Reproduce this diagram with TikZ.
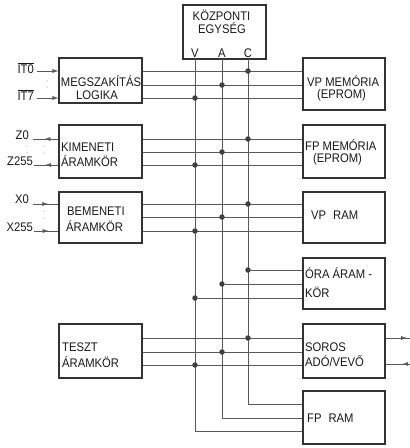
\documentclass[tikz,border=0pt]{standalone}
\usepackage{fontspec}
\setmainfont{Liberation Sans}[FakeStretch=0.9]
\usetikzlibrary{arrows.meta,decorations.markings}
\begin{document}
\begin{tikzpicture}[x=1pt,y=-1pt,
  blk/.style={draw=black!80,line width=1.1pt,minimum width=83pt,inner sep=0pt},
  rblk/.style={blk,minimum width=82pt},
  wire/.style={draw=black!65,line width=0.6pt},
  jdot/.style={circle,fill=black!75,inner sep=0pt,minimum size=5.5pt},
  fdot/.style={circle,fill=black!35,inner sep=0pt,minimum size=1.3pt},
  txt/.style={font=\fontsize{12.5}{14}\selectfont,text=black!90,inner sep=0pt,anchor=base west},
  lbl/.style={txt,anchor=base east},
  midarrow/.style={postaction={decorate},decoration={markings,mark=at position #1 with {\arrow{Latex[length=6pt,width=4pt]}}}},
]
\useasboundingbox (0,0) rectangle (410,448);

% boxes
\node[blk,minimum height=54pt] (cpu) at (224.5,32) {};
\node[blk,minimum height=45pt] (megsz) at (100.5,80.5) {};
\node[blk,minimum height=53pt] (kim) at (100.5,151.5) {};
\node[blk,minimum height=51pt] (bem) at (100.5,217.5) {};
\node[blk,minimum height=54pt] (teszt) at (100.5,351) {};
\node[rblk,minimum height=52pt] (vpmem) at (344,84) {};
\node[rblk,minimum height=53pt] (fpmem) at (344,151.5) {};
\node[rblk,minimum height=51pt] (vpram) at (344,217.5) {};
\node[rblk,minimum height=51pt] (ora) at (344,283.5) {};
\node[rblk,minimum height=54pt] (soros) at (344,351) {};
\node[rblk,minimum height=53pt] (fpram) at (344,417.5) {};

% texts
\node[txt,anchor=base] (t1) at (221.5,20) {KÖZPONTI};
\node[txt,anchor=base] (t2) at (222,33) {EGYSÉG};
\node[txt,anchor=base] (tv) at (195,57) {V};
\node[txt,anchor=base] (ta) at (222,57) {A};
\node[txt,anchor=base] (tc) at (248,57) {C};
\node[txt,anchor=base] (t3) at (101,86) {MEGSZAKÍTÁS};
\node[txt,anchor=base] (t4) at (97,99) {LOGIKA};
\node[txt] (t5) at (61,151) {KIMENETI};
\node[txt] (t6) at (61,166) {ÁRAMKÖR};
\node[txt] (t7) at (67,215) {BEMENETI};
\node[txt] (t8) at (66,231) {ÁRAMKÖR};
\node[txt] (t9) at (62,351) {TESZT};
\node[txt] (t10) at (62,367) {ÁRAMKÖR};
\node[txt] (t11) at (307,86) {VP MEMÓRIA};
\node[txt] (t12) at (317,98) {(EPROM)};
\node[txt] (t13) at (305,150) {FP MEMÓRIA};
\node[txt] (t14) at (313,162) {(EPROM)};
\node[txt] (t15) at (311,219) {VP\hspace{7pt}RAM};
\node[txt] (t16) at (305,278) {ÓRA ÁRAM -};
\node[txt] (t17) at (305,297) {KÖR};
\node[txt] (t18) at (305,351) {SOROS};
\node[txt] (t19) at (305,366) {ADÓ/VEVŐ};
\node[txt] (t20) at (307,422) {FP\hspace{7pt}RAM};

% buses
\coordinate (Vt) at (195,59);
\coordinate (At) at (222,59);
\coordinate (Ct) at (248,59);
\coordinate (Ve) at (195,431);
\coordinate (Ae) at (222,418);
\coordinate (Ce) at (248,404);
\draw[wire] (Vt) -- (Ve) -- (fpram.west |- Ve);
\draw[wire] (At) -- (Ae) -- (fpram.west |- Ae);
\draw[wire] (Ct) -- (Ce) -- (fpram.west |- Ce);

% horizontal rows with junction dots (C, A, V)
\foreach \yc/\ya/\yv/\l/\r/\n in {71/85/98/megsz/vpmem/a, 139/152/165/kim/fpmem/b, 204/217/231/bem/vpram/c, 338/352/365/teszt/soros/e}{
  \draw[wire] (\l.east |- 0,\yc) -- (\r.west |- 0,\yc);
  \draw[wire] (\l.east |- 0,\ya) -- (\r.west |- 0,\ya);
  \draw[wire] (\l.east |- 0,\yv) -- (\r.west |- 0,\yv);
  \node[jdot] (dc\n) at (248,\yc) {};
  \node[jdot] (da\n) at (222,\ya) {};
  \node[jdot] (dv\n) at (195,\yv) {};
}
% ORA row
\node[jdot] (dcd) at (248,270) {};
\node[jdot] (dad) at (222,284) {};
\node[jdot] (dvd) at (195,298) {};
\draw[wire] (dcd) -- (ora.west |- dcd);
\draw[wire] (dad) -- (ora.west |- dad);
\draw[wire] (dvd) -- (ora.west |- dvd);

% left signals
\node[lbl] (it0) at (34,73) {$\overline{\hbox{IT0}}$};
\node[lbl] (it7) at (34,100) {$\overline{\hbox{IT7}}$};
\coordinate (it0s) at (37,71);
\coordinate (it7s) at (37,98);
\draw[wire,-{Latex[length=6pt,width=4pt]}] (it0s) -- (megsz.west |- it0s);
\draw[wire,-{Latex[length=6pt,width=4pt]}] (it7s) -- (megsz.west |- it7s);
\node[fdot] (f1) at (47,81) {};
\node[fdot] (f2) at (47,87) {};

\node[lbl] (z0) at (29,139) {Z0};
\node[lbl] (z255) at (33,165) {Z255};
\coordinate (z0s) at (33,139);
\coordinate (z255s) at (34,165);
\draw[wire,midarrow=0.55] (kim.west |- z0s) -- (z0s);
\draw[wire,midarrow=0.55] (kim.west |- z255s) -- (z255s);
\node[fdot] (f3) at (27,146) {};
\node[fdot] (f4) at (27,153) {};
\node[fdot] (f5) at (44,146) {};
\node[fdot] (f6) at (44,153) {};

\node[lbl] (x0) at (29,203) {X0};
\node[lbl] (x255) at (33,231) {X255};
\coordinate (x0s) at (33,204);
\coordinate (x255s) at (34,231);
\draw[wire,midarrow=0.6] (x0s) -- (bem.west |- x0s);
\draw[wire,midarrow=0.6] (x255s) -- (bem.west |- x255s);
\node[fdot] (f7) at (44,211) {};
\node[fdot] (f8) at (44,218) {};

% serial lines
\coordinate (so1) at (410,338);
\coordinate (so2) at (410,364);
\draw[wire,midarrow=0.88] (soros.east |- so1) -- (so1);
\draw[wire,midarrow=0.32] (so2) -- (soros.east |- so2);
\end{tikzpicture}
\end{document}
